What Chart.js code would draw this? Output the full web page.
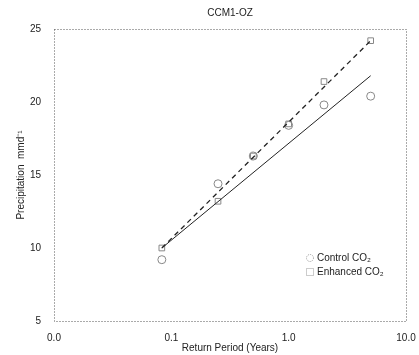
<!DOCTYPE html>
<html>
<head>
<meta charset="utf-8">
<script src="https://cdn.jsdelivr.net/npm/chart.js@4"></script>
<style>
  html, body { margin: 0; padding: 0; background: #fff; }
  #wrap { width: 419px; height: 355px; }
</style>
</head>
<body>
<div id="wrap"><canvas id="c"></canvas></div>
<script>
'use strict';

// Datos
var returnPeriods = [0.083, 0.25, 0.5, 1, 2, 5];
var controlCO2 = [9.2, 14.4, 16.3, 18.4, 19.8, 20.4];
var enhancedCO2 = [10.0, 13.2, 16.3, 18.5, 21.4, 24.2];
var fitX = [0.083, 5];
var controlFit = [10.0, 21.8];
var enhancedFit = [10.0, 24.2];
var xTicks = [0.01, 0.1, 1, 10];
var yTicks = [5, 10, 15, 20, 25];

var FONT = 'Liberation Sans, Arial, sans-serif';

function pts(xs, ys) {
  var out = [];
  for (var i = 0; i < xs.length; i++) out.push({ x: xs[i], y: ys[i] });
  return out;
}

// Marco punteado, titulo y leyenda
var decorPlugin = {
  id: 'decor',
  afterDraw: function (chart) {
    var ctx = chart.ctx;
    var a = chart.chartArea;
    ctx.save();
    ctx.strokeStyle = '#555';
    ctx.lineWidth = 1;
    ctx.setLineDash([1, 2]);
    ctx.strokeRect(a.left + 0.5, a.top + 0.5, a.right - a.left, a.bottom - a.top);
    ctx.setLineDash([]);

    // titulo
    ctx.fillStyle = '#222';
    ctx.font = '10px ' + FONT;
    ctx.textAlign = 'center';
    ctx.textBaseline = 'middle';
    ctx.fillText('CCM1-OZ', (a.left + a.right) / 2, 13);

    // leyenda
    var lx = 310, items = [['circle', 'Control CO\u2082', 258], ['rect', 'Enhanced CO\u2082', 272]];
    ctx.font = '10px ' + FONT;
    ctx.textAlign = 'left';
    for (var i = 0; i < items.length; i++) {
      var y = items[i][2];
      ctx.strokeStyle = '#999';
      ctx.setLineDash([1, 1]);
      ctx.beginPath();
      if (items[i][0] === 'circle') ctx.arc(lx, y, 3.5, 0, Math.PI * 2);
      else ctx.rect(lx - 3.5, y - 3.5, 7, 7);
      ctx.stroke();
      ctx.setLineDash([]);
      ctx.fillStyle = '#222';
      ctx.fillText(items[i][1], lx + 7, y);
    }
    ctx.restore();
  }
};

new Chart(document.getElementById('c'), {
  type: 'scatter',
  data: {
    datasets: [{
      label: 'Control fit',
      data: pts(fitX, controlFit),
      showLine: true,
      borderColor: '#222',
      borderWidth: 1,
      pointRadius: 0,
      fill: false
    }, {
      label: 'Enhanced fit',
      data: pts(fitX, enhancedFit),
      showLine: true,
      borderColor: '#222',
      borderWidth: 1.3,
      borderDash: [5, 4],
      pointRadius: 0,
      fill: false
    }, {
      label: 'Control CO\u2082',
      data: pts(returnPeriods, controlCO2),
      pointStyle: 'circle',
      pointRadius: 4,
      borderColor: '#888',
      borderWidth: 1,
      backgroundColor: 'rgba(255,255,255,0)'
    }, {
      label: 'Enhanced CO\u2082',
      data: pts(returnPeriods, enhancedCO2),
      pointStyle: 'rect',
      pointRadius: 4,
      borderColor: '#888',
      borderWidth: 1,
      backgroundColor: 'rgba(255,255,255,0)'
    }]
  },
  options: {
    responsive: true,
    maintainAspectRatio: false,
    animation: false,
    layout: { padding: { top: 29, right: 13, left: 0, bottom: 0 } },
    plugins: {
      legend: { display: false },
      title: { display: false },
      tooltip: { enabled: false }
    },
    scales: {
      x: {
        type: 'logarithmic',
        min: 0.01,
        max: 10,
        afterBuildTicks: function (scale) {
          scale.ticks = xTicks.map(function (v) { return { value: v }; });
        },
        afterFit: function (scale) { scale.height = 34; },
        grid: { display: false },
        border: { display: false },
        ticks: {
          color: '#222',
          font: { family: FONT, size: 10 },
          padding: 3,
          maxRotation: 0,
          autoSkip: false,
          callback: function (v) { return Number(v).toFixed(1); }
        },
        title: {
          display: true,
          text: 'Return Period (Years)',
          color: '#222',
          font: { family: FONT, size: 10 },
          padding: { top: 0, bottom: 1 }
        }
      },
      y: {
        min: 5,
        max: 25,
        afterBuildTicks: function (scale) {
          scale.ticks = yTicks.map(function (v) { return { value: v }; });
        },
        afterFit: function (scale) { scale.width = 54; },
        grid: { display: false },
        border: { display: false },
        ticks: {
          color: '#222',
          font: { family: FONT, size: 10 },
          padding: 5
        },
        title: {
          display: true,
          text: 'Precipitation  mmd\u207B\u00B9',
          color: '#222',
          font: { family: FONT, size: 10 },
          padding: { top: 15, bottom: 0 }
        }
      }
    }
  },
  plugins: [decorPlugin]
});
</script>
</body>
</html>
